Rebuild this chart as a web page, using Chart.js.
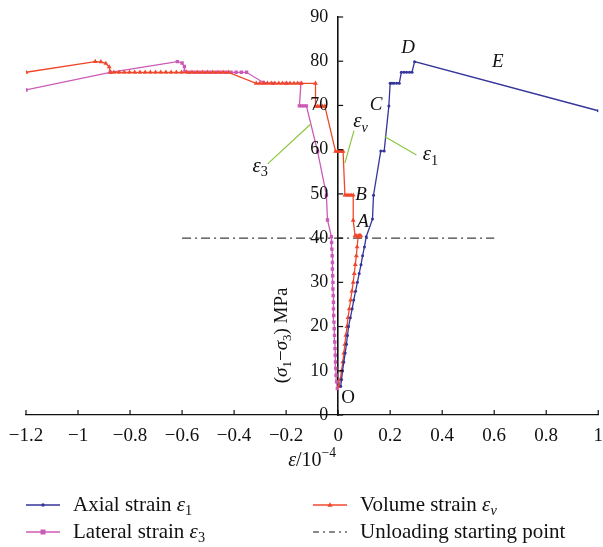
<!DOCTYPE html>
<html>
<head>
<meta charset="utf-8">
<script src="https://cdn.jsdelivr.net/npm/chart.js@4.4.0/dist/chart.umd.min.js"></script>
<style>
  html, body { margin: 0; padding: 0; background: #fff; }
  canvas { display: block; }
</style>
</head>
<body>
<canvas id="chart" width="603" height="547"></canvas>
<script>
const FONT = '"Liberation Serif", "Times New Roman", serif';

// strain in 1e-4, stress (sigma1 - sigma3) in MPa
const axialStrain = [0.010, 0.013, 0.017, 0.022, 0.027, 0.032, 0.036, 0.040, 0.047, 0.054, 0.060, 0.067,
  0.074, 0.081, 0.088, 0.094, 0.101, 0.108, 0.132, 0.136, 0.164, 0.177, 0.195, 0.200, 0.207, 0.215,
  0.225, 0.235, 0.243, 0.253, 0.263, 0.274, 0.284, 0.294, 1.000];
const axialStress = [6.5, 8, 10, 12, 14, 16, 18, 20, 22, 24, 26, 28,
  30, 32, 34, 36, 38, 40.3, 44.3, 49.7, 59.7, 59.7, 69.9, 75.0, 75.0, 75.0,
  75.0, 75.0, 77.5, 77.5, 77.5, 77.5, 77.5, 79.9, 68.8];

const volumeStrain = [0.004, 0.008, 0.013, 0.018, 0.022, 0.026, 0.030, 0.034, 0.038, 0.043, 0.048, 0.053,
  0.058, 0.062, 0.066, 0.070, 0.073, 0.077, 0.083, 0.087, 0.080, 0.072, 0.065, 0.058, 0.058, 0.050,
  0.042, 0.034, 0.026, 0.019, 0.012, 0.005, -0.003, -0.010, -0.051, -0.060, -0.069, -0.078, -0.087,
  -0.087, -0.142, -0.156, -0.170, -0.185, -0.199, -0.214, -0.228, -0.243, -0.257, -0.272, -0.286,
  -0.301, -0.315, -0.422, -0.442, -0.462, -0.482, -0.502, -0.522, -0.542, -0.562, -0.582, -0.602,
  -0.622, -0.642, -0.662, -0.682, -0.702, -0.722, -0.742, -0.762, -0.782, -0.802, -0.822, -0.842,
  -0.862, -0.876, -0.880, -0.893, -0.912, -0.934, -1.200];
const volumeStress = [6.5, 8, 10, 12, 14, 16, 18, 20, 22, 24, 26, 28,
  30, 32, 34, 36, 38, 40.3, 40.5, 40.5, 40.5, 40.5, 40.5, 44.0, 49.7, 49.7,
  49.7, 49.7, 49.7, 59.6, 59.6, 59.6, 59.6, 59.6, 69.8, 69.8, 69.8, 69.8, 69.8,
  75.0, 75.0, 75.0, 75.0, 75.0, 75.0, 75.0, 75.0, 75.0, 75.0, 75.0, 75.0,
  75.0, 75.0, 77.5, 77.5, 77.5, 77.5, 77.5, 77.5, 77.5, 77.5, 77.5, 77.5,
  77.5, 77.5, 77.5, 77.5, 77.5, 77.5, 77.5, 77.5, 77.5, 77.5, 77.5, 77.5,
  77.5, 77.5, 78.7, 79.5, 79.85, 79.9, 77.5];

const lateralStrain = [-0.003, -0.006, -0.008, -0.009, -0.010, -0.011, -0.012, -0.013, -0.014, -0.015,
  -0.016, -0.017, -0.018, -0.018, -0.019, -0.020, -0.020, -0.021, -0.022, -0.022, -0.023, -0.024,
  -0.025, -0.026, -0.041, -0.045, -0.079, -0.122, -0.131, -0.140, -0.149, -0.143, -0.200, -0.250,
  -0.288, -0.352, -0.372, -0.392, -0.412, -0.432, -0.452, -0.472, -0.492, -0.512, -0.532, -0.552,
  -0.572, -0.589, -0.591, -0.600, -0.618, -0.876, -1.200];
const lateralStress = [6, 7.5, 9, 10.5, 12, 13.5, 15, 16.5, 18, 19.5,
  21, 22.5, 24, 25.5, 27, 28.5, 30, 31.5, 33, 34.5, 36, 37.5,
  39, 40.3, 44.1, 49.7, 59.6, 69.9, 69.9, 69.9, 69.9, 75.0, 75.0, 75.0,
  75.2, 77.5, 77.5, 77.5, 77.5, 77.5, 77.5, 77.5, 77.5, 77.5, 77.5, 77.5,
  77.5, 77.7, 78.8, 79.6, 79.9, 77.5, 73.5];

const unloadStrain = [-0.6, 0.6];
const unloadStress = [40, 40];

const BLUE = '#34349a';
const RED = '#f0472b';
const PINK = '#cc5ab7';
const GREEN = '#8cc63f';

const pairs = (xs, ys) => xs.map((x, i) => ({x, y: ys[i]}));

function richText(ctx, parts, x, y, size, align) {
  const small = size * 0.68;
  const pieces = parts.map(p => {
    const sz = (p.sub || p.sup) ? small : size;
    const font = (p.it ? 'italic ' : '') + sz + 'px ' + FONT;
    ctx.font = font;
    return {t: p.t, font, w: ctx.measureText(p.t).width,
      dy: p.sub ? size * 0.3 : p.sup ? -size * 0.38 : 0};
  });
  const total = pieces.reduce((a, p) => a + p.w, 0);
  let cx = align === 'center' ? x - total / 2 : align === 'right' ? x - total : x;
  ctx.textAlign = 'left';
  ctx.textBaseline = 'middle';
  pieces.forEach(p => {
    ctx.font = p.font;
    ctx.fillText(p.t, cx, y + p.dy);
    cx += p.w;
  });
}

function marker(ctx, style, x, y, color) {
  ctx.fillStyle = color;
  ctx.beginPath();
  if (style === 'rect') ctx.rect(x - 2.5, y - 2.5, 5, 5);
  else if (style === 'triangle') { ctx.moveTo(x, y - 2.8); ctx.lineTo(x + 2.6, y + 1.8); ctx.lineTo(x - 2.6, y + 1.8); }
  else ctx.arc(x, y, 1.7, 0, Math.PI * 2);
  ctx.fill();
}

const extras = {
  id: 'extras',
  afterDraw(chart) {
    const {ctx, chartArea: ca, scales: {x, y}} = chart;
    const px = v => x.getPixelForValue(v);
    const py = v => y.getPixelForValue(v);
    ctx.save();

    // inward tick marks and y tick labels left of the centred axis
    ctx.strokeStyle = '#111';
    ctx.lineWidth = 1.2;
    const x0 = px(0);
    y.ticks.forEach(t => {
      ctx.beginPath(); ctx.moveTo(x0, py(t.value)); ctx.lineTo(x0 + 5, py(t.value)); ctx.stroke();
    });
    x.ticks.forEach(t => {
      ctx.beginPath(); ctx.moveTo(px(t.value), ca.bottom); ctx.lineTo(px(t.value), ca.bottom - 5); ctx.stroke();
    });
    ctx.fillStyle = '#111';
    ctx.font = '18px ' + FONT;
    ctx.textAlign = 'right';
    ctx.textBaseline = 'middle';
    y.ticks.forEach(t => ctx.fillText(String(t.value), x0 - 10, py(t.value)));

    // leader lines
    ctx.strokeStyle = GREEN;
    ctx.lineWidth = 1.2;
    [[0.061, 64.3, 0.026, 57.0], [-0.271, 56.8, -0.105, 65.8], [0.179, 63.0, 0.301, 58.8]].forEach(l => {
      ctx.beginPath(); ctx.moveTo(px(l[0]), py(l[1])); ctx.lineTo(px(l[2]), py(l[3])); ctx.stroke();
    });

    // point letters
    [['D', 0.269, 83.0], ['E', 0.614, 79.9], ['C', 0.146, 70.1], ['B', 0.088, 49.8], ['A', 0.096, 43.7]]
      .forEach(([t, vx, vy]) => richText(ctx, [{t, it: true}], px(vx), py(vy), 19, 'center'));
    richText(ctx, [{t: 'O'}], px(0.038), py(3.8), 19, 'center');

    // curve labels
    richText(ctx, [{t: 'ε', it: true}, {t: 'v', it: true, sub: true}], px(0.086), py(66.3), 21, 'center');
    richText(ctx, [{t: 'ε', it: true}, {t: '3', sub: true}], px(-0.30), py(56.3), 21, 'center');
    richText(ctx, [{t: 'ε', it: true}, {t: '1', sub: true}], px(0.355), py(58.8), 21, 'center');

    // axis titles
    richText(ctx, [{t: 'ε', it: true}, {t: '/10'}, {t: '−4', sup: true}], (ca.left + ca.right) / 2, ca.bottom + 46, 20, 'center');
    ctx.save();
    ctx.translate(px(-0.215), py(18));
    ctx.rotate(-Math.PI / 2);
    richText(ctx, [{t: '('}, {t: 'σ', it: true}, {t: '1', sub: true}, {t: '−'}, {t: 'σ', it: true},
      {t: '3', sub: true}, {t: ') MPa'}], 0, 0, 19, 'center');
    ctx.restore();

    // legend
    const rows = [ca.bottom + 90, ca.bottom + 117];
    const legendItems = [
      {col: 26, row: 0, color: BLUE, style: 'circle', parts: [{t: 'Axial strain '}, {t: 'ε', it: true}, {t: '1', sub: true}]},
      {col: 26, row: 1, color: PINK, style: 'rect', parts: [{t: 'Lateral strain '}, {t: 'ε', it: true}, {t: '3', sub: true}]},
      {col: 313, row: 0, color: RED, style: 'triangle', parts: [{t: 'Volume strain '}, {t: 'ε', it: true}, {t: 'v', it: true, sub: true}]},
      {col: 313, row: 1, color: '#111', style: null, dash: [6, 4, 2, 4], parts: [{t: 'Unloading starting point'}]}
    ];
    legendItems.forEach(it => {
      const ly = rows[it.row];
      ctx.strokeStyle = it.color;
      ctx.lineWidth = it.dash ? 1 : 1.4;
      ctx.setLineDash(it.dash || []);
      ctx.beginPath(); ctx.moveTo(it.col, ly); ctx.lineTo(it.col + 34, ly); ctx.stroke();
      ctx.setLineDash([]);
      if (it.style) marker(ctx, it.style, it.col + 17, ly, it.color);
      ctx.fillStyle = '#111';
      richText(ctx, it.parts, it.col + 47, ly, 21, 'left');
    });
    ctx.restore();
  }
};

const fmt = v => {
  const r = Math.round(v * 10) / 10;
  return (r < 0 ? '−' : '') + Math.abs(r);
};

new Chart(document.getElementById('chart'), {
  type: 'scatter',
  data: {
    datasets: [
      {label: 'Axial strain ε1', data: pairs(axialStrain, axialStress), showLine: true,
        borderColor: BLUE, backgroundColor: BLUE, borderWidth: 1.3,
        pointStyle: 'circle', pointRadius: 1.5, pointBorderWidth: 0},
      {label: 'Volume strain εv', data: pairs(volumeStrain, volumeStress), showLine: true,
        borderColor: RED, backgroundColor: RED, borderWidth: 1.3,
        pointStyle: 'triangle', pointRadius: 2.8, pointBorderWidth: 0},
      {label: 'Lateral strain ε3', data: pairs(lateralStrain, lateralStress), showLine: true,
        borderColor: PINK, backgroundColor: PINK, borderWidth: 1.3,
        pointStyle: 'rect', pointRadius: 2.4, pointBorderWidth: 0},
      {label: 'Unloading starting point', data: pairs(unloadStrain, unloadStress), showLine: true,
        borderColor: '#111', borderWidth: 1, borderDash: [9, 4, 2, 4], pointRadius: 0}
    ]
  },
  options: {
    responsive: false,
    animation: false,
    layout: {padding: {left: 26, right: 3, top: 17, bottom: 0}},
    plugins: {legend: {display: false}, tooltip: {enabled: false}},
    scales: {
      x: {
        type: 'linear', min: -1.2, max: 1,
        ticks: {stepSize: 0.2, color: '#111', font: {family: FONT, size: 19}, padding: 0,
          maxRotation: 0, autoSkip: false, callback: fmt},
        grid: {drawOnChartArea: false, drawTicks: true, tickLength: 10, tickColor: 'rgba(0,0,0,0)'},
        border: {color: '#111', width: 1.3},
        afterFit: s => { s.height = 132; }
      },
      y: {
        type: 'linear', min: 0, max: 90, position: {x: 0},
        ticks: {stepSize: 10, display: false},
        grid: {drawOnChartArea: false, drawTicks: false},
        border: {color: '#111', width: 1.6}
      }
    }
  },
  plugins: [extras]
});
</script>
</body>
</html>
